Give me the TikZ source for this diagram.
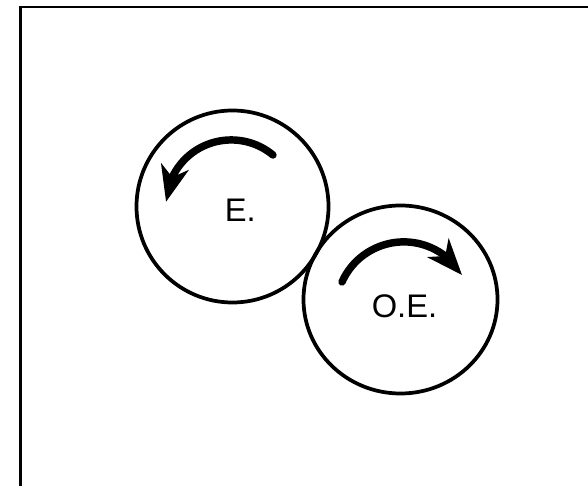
\documentclass[tikz,border=0pt]{standalone}
\usepackage{fontspec}
\setmainfont{Liberation Sans}
\usetikzlibrary{arrows.meta,bending}
\begin{document}
\begin{tikzpicture}[x=0.75pt,y=0.75pt,
  frameline/.style={line width=2pt},
  wheelline/.style={line width=2.8pt},
  label/.style={font=\fontsize{24.5}{28}\selectfont,inner sep=0pt},
  turn/.style={line width=5.6pt,line cap=round,
    -{Stealth[length=27pt,width=21pt,inset=8pt]}}]
\useasboundingbox (0,0) rectangle (588,485);
% frame (cut at right and bottom)
\draw[frameline] (20.5,-5) -- (20.5,478) -- (600,478);
% wheels
\draw[wheelline] (232.5,278.5) circle[radius=96];
\node[inner sep=0pt,minimum size=144pt] (ce) at (232.5,278.5) {};
\draw[wheelline] (400.5,185.5) ellipse[x radius=97,y radius=94];
\node[inner sep=0pt,minimum size=143pt] (coe) at (400.5,185.5) {};
% labels
\node[label,anchor=base west] (le) at (224.5,263) {E.};
\node[label,anchor=base west] (loe) at (371.5,167.5) {O.E.};
% rotation arrows
\coordinate (ae) at (231.25,279.75);
\draw[turn] (ae) ++(50.3:65.3) arc[start angle=50.3,end angle=177,radius=65.3];
\coordinate (aoe) at (403.8,175.4);
\draw[turn] (aoe) ++(155.9:67.7) arc[start angle=155.9,end angle=30.7,radius=67.7];
\end{tikzpicture}
\end{document}
